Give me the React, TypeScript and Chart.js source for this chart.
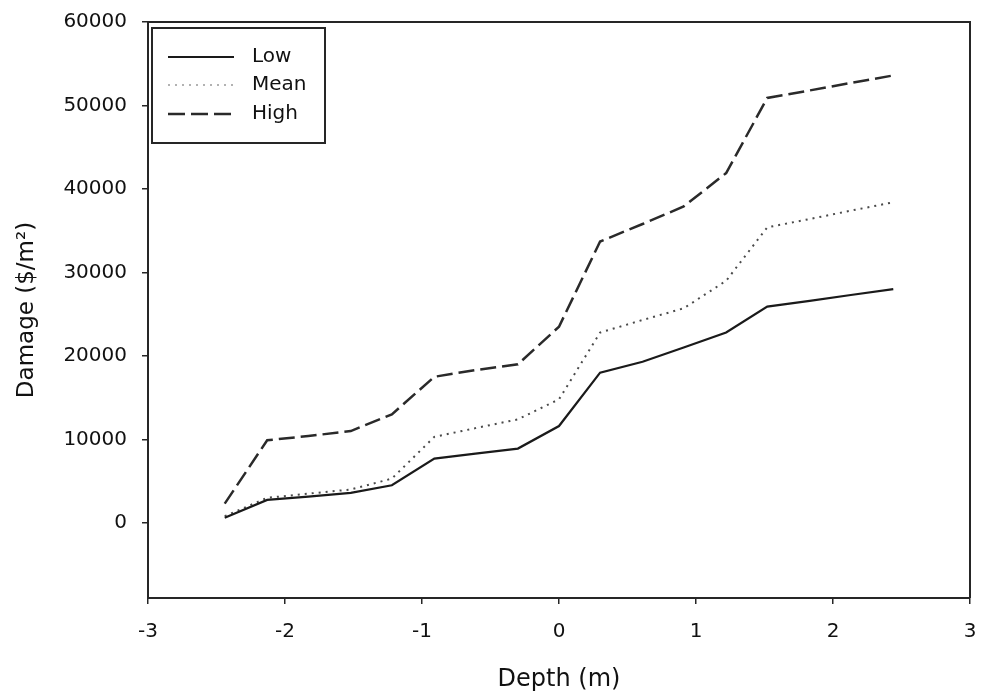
import React, { useEffect, useRef } from "react";
import { Chart, registerables } from "chart.js";

Chart.register(...registerables);

// Depth (m) — points every foot from -8 ft to 8 ft
const depths = [-2.44, -2.13, -1.83, -1.52, -1.22, -0.91, -0.61, -0.3, 0, 0.3, 0.61, 0.91, 1.22, 1.52, 1.83, 2.13, 2.44];
const lowValues = [600, 2750, 3150, 3600, 4500, 7700, 8300, 8900, 11600, 18000, 19300, 21000, 22800, 25900, 26600, 27300, 28000];
const meanValues = [800, 3000, 3500, 4000, 5300, 10300, 11350, 12400, 14800, 22800, 24300, 25700, 29000, 35400, 36400, 37400, 38400];
const highValues = [2300, 9900, 10400, 11000, 13000, 17500, 18300, 19000, 23500, 33700, 35800, 37900, 41900, 50900, 51800, 52700, 53600];
const seriesLabels = ["Low", "Mean", "High"];
const xTicks = [-3, -2, -1, 0, 1, 2, 3];
const yTicks = [0, 10000, 20000, 30000, 40000, 50000, 60000];
const xTitle = "Depth (m)";
const yTitle = "Damage ($/m²)";

const FONT = "DejaVu Sans";
const INK = "#262626";
const TEXT = "#111";

const toPoints = (vals: number[]) => depths.map((d, i) => ({ x: d, y: vals[i] }));

const frameAndLegend = {
  id: "frameAndLegend",
  afterDraw(chart: any) {
    const { ctx, chartArea } = chart;
    const { left, top, right, bottom } = chartArea;
    ctx.save();
    // top and right frame
    ctx.strokeStyle = INK;
    ctx.lineWidth = 2;
    ctx.setLineDash([]);
    ctx.beginPath();
    ctx.moveTo(left, top);
    ctx.lineTo(right, top);
    ctx.lineTo(right, bottom);
    ctx.stroke();

    // legend box
    const bx = left + 4;
    const by = top + 6;
    const bw = 173;
    const bh = 115;
    ctx.lineWidth = 2;
    ctx.strokeStyle = INK;
    ctx.strokeRect(bx, by, bw, bh);

    const rows = [29, 57, 86];
    const styles = [
      { dash: [] as number[], color: "#1a1a1a", width: 2.2 },
      { dash: [2, 5], color: "#999", width: 1.5 },
      { dash: [17, 6], color: "#2a2a2a", width: 2.4 },
    ];
    chart.data.datasets.forEach((ds: any, i: number) => {
      const y = by + rows[i];
      const st = styles[i];
      ctx.beginPath();
      ctx.setLineDash(st.dash);
      ctx.strokeStyle = st.color;
      ctx.lineWidth = st.width;
      ctx.moveTo(bx + 16, y);
      ctx.lineTo(bx + 82, y);
      ctx.stroke();
      ctx.setLineDash([]);
      ctx.fillStyle = TEXT;
      ctx.font = `20px "${FONT}"`;
      ctx.textBaseline = "middle";
      ctx.textAlign = "left";
      ctx.fillText(ds.label, bx + 100, y);
    });
    ctx.restore();
  },
};

export default function App() {
  const ref = useRef<HTMLCanvasElement | null>(null);

  useEffect(() => {
    if (!ref.current) return;
    const chart = new Chart(ref.current, {
      type: "line",
      data: {
        datasets: [
          {
            label: seriesLabels[0],
            data: toPoints(lowValues),
            borderColor: "#1a1a1a",
            borderWidth: 2.2,
            pointRadius: 0,
            tension: 0,
            fill: false,
          },
          {
            label: seriesLabels[1],
            data: toPoints(meanValues),
            borderColor: "#4a4a4a",
            borderWidth: 2,
            borderDash: [2, 5],
            pointRadius: 0,
            tension: 0,
            fill: false,
          },
          {
            label: seriesLabels[2],
            data: toPoints(highValues),
            borderColor: "#2a2a2a",
            borderWidth: 2.5,
            borderDash: [16, 6],
            pointRadius: 0,
            tension: 0,
            fill: false,
          },
        ],
      },
      options: {
        responsive: false,
        animation: false,
        maintainAspectRatio: false,
        layout: { padding: { top: 22, right: 11, left: 0, bottom: 0 } },
        plugins: {
          legend: { display: false },
          tooltip: { enabled: false },
          title: { display: false },
        },
        scales: {
          x: {
            type: "linear",
            min: -3,
            max: 3,
            afterFit: (s: any) => {
              s.height = 100;
              s.paddingLeft = 0;
              s.paddingRight = 0;
            },
            afterBuildTicks: (s: any) => {
              s.ticks = xTicks.map((v) => ({ value: v }));
            },
            ticks: {
              color: TEXT,
              font: { family: FONT, size: 20 },
              padding: 16,
              maxRotation: 0,
              callback: (v: any) => String(v),
            },
            grid: {
              display: true,
              drawOnChartArea: false,
              drawTicks: true,
              tickLength: 6,
              color: INK,
              lineWidth: 1.5,
            },
            border: { display: true, color: INK, width: 2 },
            title: {
              display: true,
              text: xTitle,
              color: TEXT,
              font: { family: FONT, size: 24 },
              padding: { top: 0, bottom: 4 },
            },
          },
          y: {
            type: "linear",
            min: -9000,
            max: 60000,
            afterFit: (s: any) => {
              s.width = 148;
              s.paddingTop = 0;
              s.paddingBottom = 0;
            },
            afterBuildTicks: (s: any) => {
              s.ticks = yTicks.map((v) => ({ value: v }));
            },
            ticks: {
              color: TEXT,
              font: { family: FONT, size: 20 },
              padding: 15,
              callback: (v: any) => String(v),
            },
            grid: {
              display: true,
              drawOnChartArea: false,
              drawTicks: true,
              tickLength: 6,
              color: INK,
              lineWidth: 1.5,
            },
            border: { display: true, color: INK, width: 2 },
            title: {
              display: true,
              text: yTitle,
              color: TEXT,
              font: { family: FONT, size: 23 },
              padding: { top: 13, bottom: 0 },
            },
          },
        },
      },
      plugins: [frameAndLegend],
    });
    return () => chart.destroy();
  }, []);

  return (
    <div style={{ position: "absolute", left: 0, top: 0, width: 981, height: 698, background: "#fff" }}>
      <canvas ref={ref} width={981} height={698} style={{ display: "block" }} />
    </div>
  );
}
